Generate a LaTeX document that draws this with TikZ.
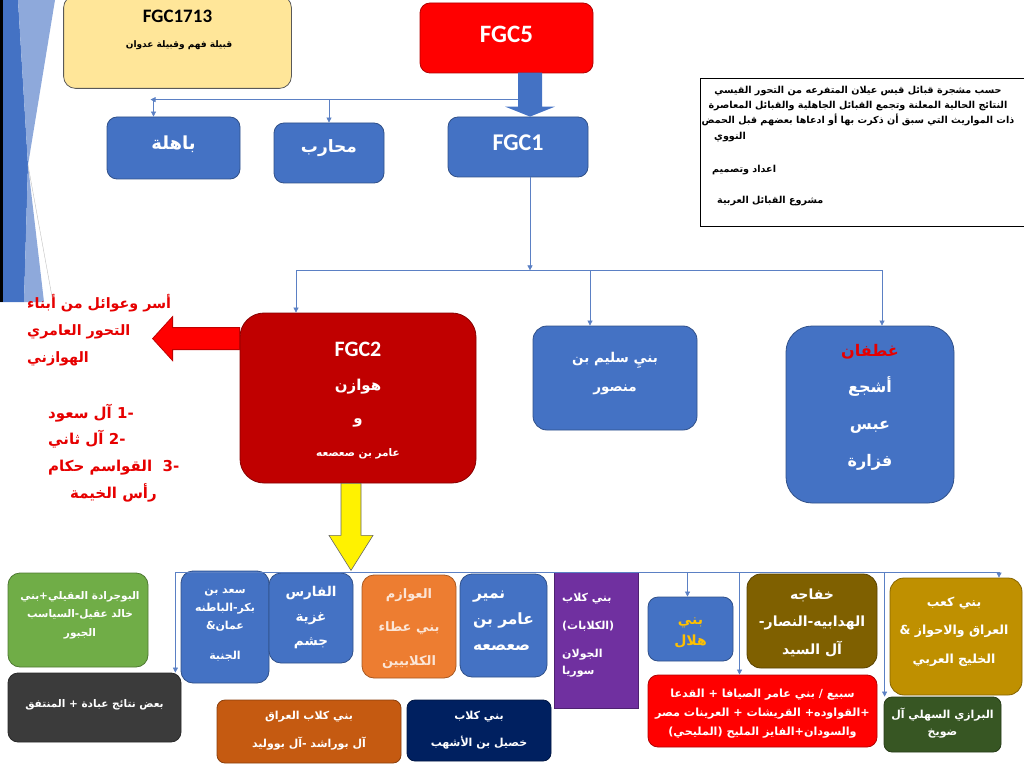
\documentclass[tikz,border=0pt]{standalone}
\usepackage{fontspec}
\setmainfont{Carlito}
\newfontfamily\arabicfont[Script=Arabic]{DejaVu Sans}
\TeXXeTstate=1
\usetikzlibrary{arrows.meta,calc}
\definecolor{qblue}{HTML}{4472C4}
\definecolor{linkblue}{HTML}{5B80C4}
\definecolor{facetlight}{HTML}{8EA9DB}
\definecolor{fgcred}{HTML}{FF0000}
\definecolor{fgcdark}{HTML}{C00000}
\definecolor{sand}{HTML}{FFE699}
\definecolor{leaf}{HTML}{70AD47}
\definecolor{coal}{HTML}{3B3B3B}
\definecolor{tang}{HTML}{ED7D31}
\definecolor{paletang}{HTML}{FBE5D6}
\definecolor{plum}{HTML}{7030A0}
\definecolor{rust}{HTML}{C55A11}
\definecolor{navy}{HTML}{002060}
\definecolor{mud}{HTML}{7F6000}
\definecolor{ochre}{HTML}{BF9000}
\definecolor{moss}{HTML}{375623}
\definecolor{goldtxt}{HTML}{FFC000}
\definecolor{alert}{HTML}{E60000}
\newcommand{\artxt}[1]{{\arabicfont\beginR #1\endR}}
\newcommand{\tsz}[2]{\fontsize{#1}{#2}\selectfont\bfseries}
\tikzset{
  tribe/.style={fill=#1, draw=#1!70!black, line width=0.8pt, inner sep=0pt},
  tlabel/.style={text=white, align=center, inner sep=0pt},
  link/.style={draw=linkblue, line width=0.7pt},
  drop/.style={link, -{Triangle[width=5pt,length=5pt]}},
}
\begin{document}
\begin{tikzpicture}[x=1pt,y=-1pt]
  \useasboundingbox (0,0) rectangle (1024,783);
  % facet on the left edge
  \fill[qblue] (0,0) -- (18,0) -- (28,165) -- (24,302) -- (0,302) -- cycle;
  \fill[facetlight] (18,0) -- (55,0) -- (28,165) -- cycle;
  \fill[facetlight] (28,165) -- (44,302) -- (24,302) -- cycle;
  \draw[gray!50, line width=0.4pt] (28,165) -- (53,302);
  \fill[black] (0,0) rectangle (3,302);

  % boxes
  \foreach \nm/\cx/\cy/\w/\h/\col/\r in {
    fgcA/177.5/42/227/92/sand/12,
    fgcV/506.5/38/173/70/fgcred/10,
    bahila/173.5/148/133/62/qblue/10,
    muharib/329/153/110/60/qblue/10,
    fgc1/518/147/140/60/qblue/10,
    fgc2/358/398/236/170/fgcdark/24,
    sulaym/615/378/164/104/qblue/14,
    ghatafan/870/414.5/168/177/qblue/26,
    green/78/620/140/94/leaf/12,
    gray/94.5/707.5/173/69/coal/10,
    saad/225/627/88/112/qblue/12,
    faris/311/618/84/90/qblue/12,
    awazim/409/626.5/94/103/tang/12,
    numayr/503.5/625.5/87/103/qblue/12,
    kilab/596/640/84/136/plum/0,
    kilabiraq/309/731.5/184/63/rust/8,
    khusayl/479/730.5/144/61/navy/8,
    hilal/690.5/629/85/64/qblue/10,
    khafaja/812/621/130/94/mud/14,
    kaab/956/636.5/132/117/ochre/14,
    subay/762.5/711/229/72/fgcred/10,
    barazi/942.5/724.5/117/55/moss/8
  } {
    \node[tribe=\col, rounded corners=\r pt, minimum width=\w, minimum height=\h] (\nm) at (\cx,\cy) {};
  }
  \node[draw=black, line width=0.8pt, minimum width=330, minimum height=148, inner sep=0pt] (note) at (865,152) {};
  \draw[black!65, line width=0.8pt, rounded corners=12pt, fill=sand] (fgcA.north west) rectangle (fgcA.south east);

  % connectors
  \coordinate (fall) at ($(fgc1.north)+(12,0)$);
  \coordinate (tl) at ($(fall)+(-12,-17)$);
  \draw[drop] (tl) -- ($(bahila.north)+(-23,-17)$);
  \draw[drop] ($(bahila.north)+(-20,-17)$) -- ($(bahila.north)+(-20,0)$);
  \draw[drop] (muharib.north |- tl) -- (muharib.north);

  \coordinate (midbus) at ($(fgc1.south)+(12,93)$);
  \coordinate (b1) at ($(fgc2.north)+(-62,0)$);
  \coordinate (b2) at ($(sulaym.north)+(-25,0)$);
  \coordinate (b3) at ($(ghatafan.north)+(12,0)$);
  \draw[drop] ($(fgc1.south)+(12,0)$) -- (midbus);
  \draw[link] (b1 |- midbus) -- (b3 |- midbus);
  \foreach \b in {b1,b2,b3}
    \draw[drop] (\b |- midbus) -- (\b);

  \coordinate (lowbus) at ($(fgc2.south)+(0,89)$);
  \coordinate (d1) at ($(gray.north east)+(-6,0)$);
  \coordinate (d2) at ($(hilal.north)+(-3,0)$);
  \coordinate (d3) at ($(subay.north)+(-23,0)$);
  \coordinate (d4) at ($(barazi.north west)+(1,0)$);
  \coordinate (d5) at ($(kaab.north)+(43,0)$);
  \draw[link] (d1 |- lowbus) -- (d5 |- lowbus);
  \foreach \d in {d1,d2,d3,d4,d5}
    \draw[drop] (\d |- lowbus) -- (\d);

  % block arrows
  \fill[qblue] ($(fall)+(-12,-44)$) -- ($(fall)+(12,-44)$) -- ($(fall)+(12,-10)$) -- ($(fall)+(25,-10)$)
    -- (fall) -- ($(fall)+(-25,-10)$) -- ($(fall)+(-12,-10)$) -- cycle;
  \coordinate (redtail) at ($(fgc2.north west)+(0,26)$);
  \filldraw[fill=fgcred, draw=fgcdark, line width=0.8pt] ($(redtail)+(0,-11)$) -- ($(redtail)+(-67,-11)$)
    -- ($(redtail)+(-67,-22)$) -- ($(redtail)+(-87,0)$) -- ($(redtail)+(-67,22)$) -- ($(redtail)+(-67,11)$)
    -- ($(redtail)+(0,11)$) -- cycle;
  \coordinate (ytail) at ($(fgc2.south)+(-7,0)$);
  \filldraw[fill=yellow, draw=black!60, line width=0.6pt] ($(ytail)+(-10,0)$) -- ($(ytail)+(10,0)$)
    -- ($(ytail)+(10,52)$) -- ($(ytail)+(22,52)$) -- ($(ytail)+(0,87)$) -- ($(ytail)+(-22,52)$)
    -- ($(ytail)+(-10,52)$) -- cycle;

  % top texts
  \node[tlabel, text=black, font=\tsz{19}{22}] (fgcA-t) at (177.5,16) {FGC1713};
  \node[tlabel, text=black, font=\tsz{9}{12}] (fgcA-s) at (179,45) {\artxt{قبيلة فهم وقبيلة عدوان}};
  \node[tlabel, font=\tsz{25}{28}] (fgcV-t) at (506.5,34) {FGC5};
  \node[tlabel, font=\tsz{18}{20}] (bahila-t) at (173.5,144) {\artxt{باهلة}};
  \node[tlabel, font=\tsz{17}{20}] (muharib-t) at (329,148) {\artxt{محارب}};
  \node[tlabel, font=\tsz{24}{28}] (fgc1-t) at (518,143) {FGC1};
  \node[tlabel, text=black, font=\tsz{9.6}{15}] (note-a) at (858,106)
    {\artxt{حسب  مشجرة قبائل قيس عيلان المتفرعه من التحور القيسي}\\
     \artxt{النتائج الحالية المعلنة وتجمع القبائل الجاهلية والقبائل المعاصرة}\\
     \artxt{ذات المواريث التي سبق أن ذكرت بها أو ادعاها بعضهم قبل الحمض}};
  \node[tlabel, text=black, font=\tsz{9.6}{12}, anchor=west] (note-b) at (714,137) {\artxt{النووي}};
  \node[tlabel, text=black, font=\tsz{9.6}{12}, anchor=west] (note-c) at (712,170) {\artxt{اعداد وتصميم}};
  \node[tlabel, text=black, font=\tsz{9.6}{12}, anchor=west] (note-d) at (717,201) {\artxt{مشروع القبائل العربية}};

  % middle texts
  \node[tlabel, font=\tsz{22}{26}] (fgc2-t) at (358,349) {FGC2};
  \node[tlabel, font=\tsz{15}{33}] (fgc2-s) at (358,419)
    {\artxt{هوازن}\\\artxt{و}\\{\fontsize{10.5}{33}\selectfont\artxt{عامر بن صعصعه}}};
  \node[tlabel, text=alert, align=left, anchor=west, font=\tsz{14.3}{27}] (kin-t) at (27,330)
    {\artxt{أسر وعوائل من أبناء}\\\artxt{التحور العامري}\\\artxt{الهوازني}};
  \node[tlabel, text=alert, align=left, anchor=west, font=\tsz{15}{26.7}] (rulers-t) at (48,453)
    {\artxt{\beginL-1\endL\ آل سعود}\\\artxt{\beginL-2\endL\ آل ثاني}\\
     \artxt{\beginL-3\endL\ \ القواسم حكام}\\\hspace*{22pt}\artxt{رأس الخيمة}};
  \node[tlabel, font=\tsz{13.5}{29}] (sulaym-t) at (615,374) {\artxt{بنيِ سليم بن}\\\artxt{منصور}};
  \node[tlabel, font=\tsz{16}{36.7}] (ghatafan-t) at (870,407)
    {{\color{alert}\artxt{غطفان}}\\\artxt{أشجع}\\\artxt{عبس}\\\artxt{فزارة}};

  % bottom texts
  \node[tlabel, font=\tsz{10.5}{18.5}] (green-t) at (80,615)
    {\artxt{البوجرادة العقيلي+بني}\\\artxt{خالد عقيل-السياسب}\\\artxt{الجبور}};
  \node[tlabel, font=\tsz{10.5}{13}] (gray-t) at (94.5,705) {\artxt{بعض نتائج عبادة + المنتفق}};
  \node[tlabel, font=\tsz{11}{18}] (saad-t) at (225,625)
    {\artxt{سعد بن}\\\artxt{بكر-الباطنه}\\\artxt{عمان\&}\\[12pt]\artxt{الجنبة}};
  \node[tlabel, font=\tsz{13.5}{24.5}] (faris-t) at (311,618) {\artxt{الفارس}\\\artxt{غزية}\\\artxt{جشم}};
  \node[tlabel, text=paletang, font=\tsz{13}{33.5}] (awazim-t) at (409,628.5)
    {\artxt{العوازم}\\\artxt{بني عطاء}\\\artxt{الكلابيين}};
  \node[tlabel, align=left, font=\tsz{15.5}{26}] (numayr-t) at (503.5,621)
    {\artxt{نمير}\\\artxt{عامر بن}\\\artxt{صعصعه}};
  \node[tlabel, align=left, anchor=west, font=\tsz{11}{28}] (kilab-t) at (562,635)
    {\artxt{بني كلاب}\\\artxt{(الكلابات)}\\\artxt{الجولان}\\[-11pt]\artxt{سوريا}};
  \node[tlabel, font=\tsz{11}{28}] (kilabiraq-t) at (309,731) {\artxt{بني كلاب العراق}\\\artxt{آل بوراشد -آل بووليد}};
  \node[tlabel, font=\tsz{11}{27}] (khusayl-t) at (479,730.5) {\artxt{بني كلاب}\\\artxt{خصيل بن الأشهب}};
  \node[tlabel, text=goldtxt, font=\tsz{14}{21}] (hilal-t) at (690.5,632.5) {\artxt{بني}\\\artxt{هلال}};
  \node[tlabel, font=\tsz{14}{27.5}] (khafaja-t) at (812,622.5)
    {\artxt{خفاجه}\\\artxt{الهدابيه-النصار-}\\\artxt{آل السيد}};
  \node[tlabel, font=\tsz{12.5}{28.5}] (kaab-t) at (954,631.5)
    {\artxt{بني كعب}\\\artxt{العراق والاحواز \&}\\\artxt{الخليج العربي}};
  \node[tlabel, font=\tsz{11.2}{19}] (subay-t) at (762.5,714)
    {\artxt{سبيع / بني عامر الصيافا + القدعا}\\\artxt{+القواوده+ القريشات + العرينات مصر}\\\artxt{والسودان+الفايز المليح (المليحي)}};
  \node[tlabel, font=\tsz{11}{17}] (barazi-t) at (942.5,723.5) {\artxt{البرازي السهلي  آل}\\\artxt{ضويخ}};
\end{tikzpicture}
\end{document}
